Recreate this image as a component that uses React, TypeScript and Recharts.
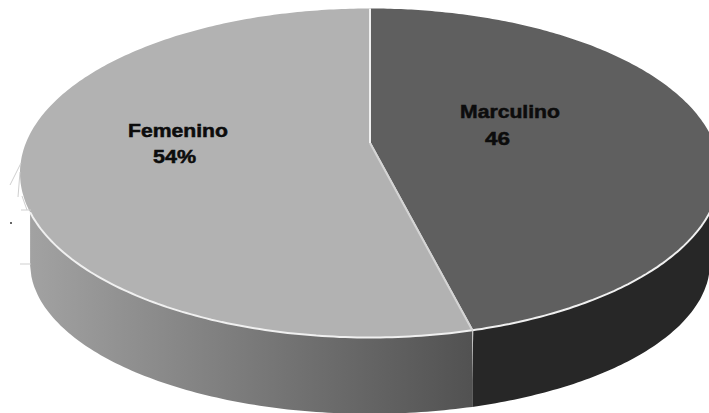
import { PieChart, Pie } from "recharts";

const categories = ["Marculino", "Femenino"];
const seriesValues = [46, 54];
const valueTexts = ["46", "54%"];

const chartData = categories.map((name, i) => ({ name, value: seriesValues[i] }));

// where each two-line label sits, and how wide the stretched text runs
const labelSpots = [
  { x: 460, y: 118, width: 100, x2: 485, y2: 145, width2: 25 },
  { x: 128, y: 137, width: 100, x2: 153, y2: 163, width2: 43 },
];

const sliceStyles = [
  { top: "#5f5f5f", wall: "#272727" },
  { top: "#b2b2b2", wall: "url(#wallLight)" },
];

// the picture has perspective: the apex is not the middle of the rim ellipse
const RIM_DY = 30;
const RIM_SQUASH = 0.47;
const WALL_DROP = 90;
const WALL_SQUASH = 0.431;
const WALL_INSET = 10;

function rimPoint(cx: number, cy: number, r: number, theta: number) {
  const ry = r * RIM_SQUASH;
  const uy = -RIM_DY / ry;
  const dx = Math.sin(theta);
  const dy = -Math.cos(theta);
  const b = uy * dy;
  const c = uy * uy - 1;
  const t = -b + Math.sqrt(b * b - c);
  return { x: cx + dx * t * r, y: cy + RIM_DY + (uy + dy * t) * ry };
}

function wallBottom(cx: number, cy: number, r: number, x: number) {
  const rx = r - WALL_INSET;
  const k = Math.min(1, Math.abs(x - cx) / rx);
  return cy + RIM_DY + WALL_DROP + Math.sqrt(1 - k * k) * r * WALL_SQUASH;
}

const toPath = (pts: { x: number; y: number }[]) =>
  pts.map((p, i) => `${i === 0 ? "M" : "L"}${p.x.toFixed(1)},${p.y.toFixed(1)}`).join(" ");

function ElevatedSlice(props: any) {
  const { cx, cy, outerRadius, startAngle, endAngle, index } = props;
  const style = sliceStyles[index];
  const from = ((90 - startAngle) * Math.PI) / 180;
  const to = ((90 - endAngle) * Math.PI) / 180;
  const rim = [];
  for (let i = 0; i <= 240; i++) {
    rim.push(rimPoint(cx, cy, outerRadius, from + ((to - from) * i) / 240));
  }
  const front = rim.filter(
    (p) => p.y > cy + RIM_DY && p.x >= cx - outerRadius + WALL_INSET
  );
  const wallUnder = front
    .map((p) => ({ x: p.x, y: wallBottom(cx, cy, outerRadius, p.x) }))
    .reverse();
  const first = rim[0];
  const last = rim[rim.length - 1];
  return (
    <g>
      <defs>
        <linearGradient id="wallLight" gradientUnits="userSpaceOnUse" x1={30} y1={0} x2={470} y2={0}>
          <stop offset="0%" stopColor="#a2a2a2" />
          <stop offset="35%" stopColor="#868686" />
          <stop offset="100%" stopColor="#525252" />
        </linearGradient>
      </defs>
      <path d={toPath([...front, ...wallUnder]) + " Z"} fill={style.wall} />
      <path d={`M${cx},${cy} ${toPath(rim).replace("M", "L")} Z`} fill={style.top} />
      <path d={toPath(front)} fill="none" stroke="#f0f0f0" strokeWidth={2} />
      <path d={`M${cx},${cy} L${first.x},${first.y}`} stroke="#d4d4d4" strokeWidth={2} />
      <path d={`M${cx},${cy} L${last.x},${last.y}`} stroke="#f0f0f0" strokeWidth={2} />
      {index === 0 && (
        <path
          d={`M${last.x},${last.y} L${last.x - 2},${wallBottom(cx, cy, outerRadius, last.x)}`}
          stroke="#f0f0f0"
          strokeWidth={2}
        />
      )}
    </g>
  );
}

function SliceLabel(props: any) {
  const spot = labelSpots[props.index];
  const font = {
    fontFamily: "Liberation Sans",
    fontWeight: 700,
    fontSize: 18,
    fill: "#0c0c0c",
    stroke: "#0c0c0c",
    strokeWidth: 0.5,
    lengthAdjust: "spacingAndGlyphs" as const,
  };
  return (
    <g>
      <text x={spot.x} y={spot.y} textLength={spot.width} {...font}>
        {categories[props.index]}
      </text>
      <text x={spot.x2} y={spot.y2} textLength={spot.width2} {...font}>
        {valueTexts[props.index]}
      </text>
    </g>
  );
}

export default function App() {
  return (
    <div style={{ position: "absolute", left: 0, top: 0, width: 709, height: 413, overflow: "hidden", background: "#fff" }}>
      <PieChart width={709} height={413} margin={{ top: 0, right: 0, bottom: 0, left: 0 }}>
        <Pie
          data={chartData}
          dataKey="value"
          nameKey="name"
          cx={370}
          cy={143}
          outerRadius={350}
          startAngle={90}
          endAngle={-270}
          stroke="none"
          shape={ElevatedSlice}
          label={SliceLabel}
          labelLine={false}
          isAnimationActive={false}
        />
      </PieChart>
      {/* stray marks left of the pie in the scan */}
      <svg width={40} height={413} style={{ position: "absolute", left: 0, top: 0 }}>
        <g stroke="#cfcfcf" strokeWidth={1} fill="none">
          <path d="M10,185 L21,163" />
          <path d="M18,197 L20,172" />
          <path d="M22,196 L27,210" />
          <path d="M21,210 L31,210" />
          <path d="M20,264 L31,264" />
        </g>
        <circle cx={11} cy={223} r={1} fill="#333" />
      </svg>
    </div>
  );
}
